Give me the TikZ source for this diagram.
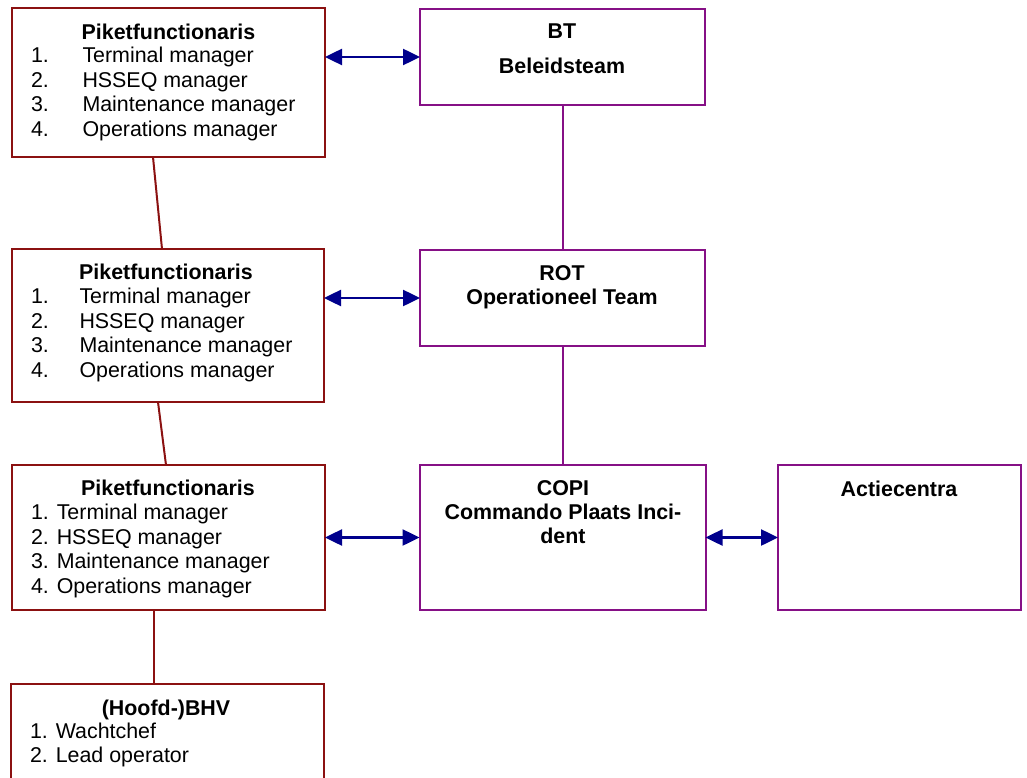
\documentclass[tikz,border=0pt]{standalone}
\usepackage{fontspec}
\setmainfont{Liberation Sans}
\usetikzlibrary{arrows.meta}
\definecolor{boxred}{RGB}{139,17,17}
\definecolor{boxpurple}{RGB}{134,16,134}
\definecolor{arrowblue}{RGB}{0,0,140}
\tikzset{
  redbox/.style={draw=boxred, line width=2pt, rectangle, inner sep=0pt, outer sep=0pt, fill=white},
  purplebox/.style={draw=boxpurple, line width=2pt, rectangle, inner sep=0pt, outer sep=0pt, fill=white},
  redline/.style={draw=boxred, line width=2pt},
  purpleline/.style={draw=boxpurple, line width=2pt},
  biarrow/.style={draw=arrowblue, line width=2.5pt, {Triangle[length=17pt,width=16pt]}-{Triangle[length=17pt,width=16pt]}},
  txt/.style={inner sep=0pt, outer sep=0pt, font=\fontsize{21.4pt}{24.4pt}\selectfont, anchor=base west},
  ttl/.style={inner sep=0pt, outer sep=0pt, font=\fontsize{21.4pt}{24.4pt}\selectfont\bfseries, anchor=base},
}
\begin{document}
\begin{tikzpicture}[x=1pt,y=-1pt]
\clip (0,0) rectangle (1027,778);
\fill[white] (0,0) rectangle (1027,778);
% boxes
\node[redbox, minimum width=313pt, minimum height=149pt] (b1) at (168.5,82.5) {};
\node[redbox, minimum width=312pt, minimum height=153pt] (b2) at (168,325.5) {};
\node[redbox, minimum width=313pt, minimum height=145pt] (b3) at (168.5,537.5) {};
\node[redbox, minimum width=313pt, minimum height=116pt] (b4) at (167.5,742) {};
\node[purplebox, minimum width=285pt, minimum height=96pt] (bt) at (562.5,57) {};
\node[purplebox, minimum width=285pt, minimum height=96pt] (rot) at (562.5,298) {};
\node[purplebox, minimum width=286pt, minimum height=145pt] (copi) at (562.5,537.5) {};
\node[purplebox, minimum width=243pt, minimum height=145pt] (act) at (899.5,537.5) {};
% connectors left column
\draw[redline] (153,0 |- b1.south) -- (162,0 |- b2.north);
\draw[redline] (158,0 |- b2.south) -- (166,0 |- b3.north);
\draw[redline] (154,0 |- b3.south) -- (154,0 |- b4.north);
% connectors right column
\draw[purpleline] (bt.south) -- (rot.north);
\draw[purpleline] (rot.south) -- (copi.north);
% arrows
\draw[biarrow] (b1.east |- bt.west) -- (bt.west);
\draw[biarrow] (b2.east |- rot.west) -- (rot.west);
\draw[biarrow] (b3.east |- copi.west) -- (copi.west);
\draw[biarrow] (copi.east) -- (act.west);
% box 1 text
\node[ttl] (t1) at (168.5,40) {Piketfunctionaris};
\node[txt] (n11) at (31,63) {1.};
\node[txt] (n12) at (31,87.5) {2.};
\node[txt] (n13) at (31,112) {3.};
\node[txt] (n14) at (31,137) {4.};
\node[txt] (s11) at (82.5,63) {Terminal manager};
\node[txt] (s12) at (82.5,87.5) {HSSEQ manager};
\node[txt] (s13) at (82.5,112) {Maintenance manager};
\node[txt] (s14) at (82.5,137) {Operations manager};
% box 2 text
\node[ttl] (t2) at (166,279) {Piketfunctionaris};
\node[txt] (n21) at (31,303) {1.};
\node[txt] (n22) at (31,328) {2.};
\node[txt] (n23) at (31,352) {3.};
\node[txt] (n24) at (31,377) {4.};
\node[txt] (s21) at (79.5,303) {Terminal manager};
\node[txt] (s22) at (79.5,328) {HSSEQ manager};
\node[txt] (s23) at (79.5,352) {Maintenance manager};
\node[txt] (s24) at (79.5,377) {Operations manager};
% box 3 text
\node[ttl] (t3) at (168,495) {Piketfunctionaris};
\node[txt] (s31) at (31,519) {1. Terminal manager};
\node[txt] (s32) at (31,544) {2. HSSEQ manager};
\node[txt] (s33) at (31,568) {3. Maintenance manager};
\node[txt] (s34) at (31,593) {4. Operations manager};
% box 4 text
\node[ttl] (t4) at (166,715) {(Hoofd-)BHV};
\node[txt] (s41) at (30,738) {1. Wachtchef};
\node[txt] (s42) at (30,762) {2. Lead operator};
% right boxes text
\node[ttl] (tbt1) at (562,39) {BT};
\node[ttl] (tbt2) at (562,74) {Beleidsteam};
\node[ttl] (trot1) at (562,280) {ROT};
\node[ttl] (trot2) at (562,304) {Operationeel Team};
\node[ttl] (tc1) at (563,495) {COPI};
\node[ttl] (tc2) at (563,519) {Commando Plaats Inci-};
\node[ttl] (tc3) at (563,543) {dent};
\node[ttl] (ta1) at (899,496) {Actiecentra};
\end{tikzpicture}
\end{document}
